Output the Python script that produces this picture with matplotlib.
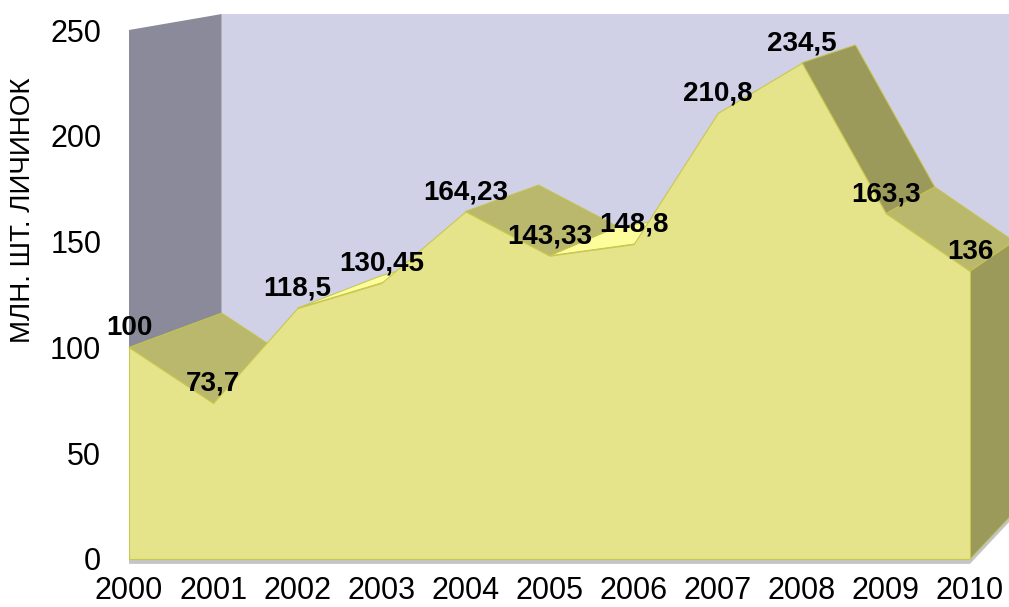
import matplotlib
matplotlib.use("Agg")
import matplotlib.pyplot as plt
from matplotlib.patches import Polygon
import numpy as np

plt.rcParams['font.family'] = ['Liberation Sans', 'DejaVu Sans']

# larvae output per year, mln pcs
years = ['2000', '2001', '2002', '2003', '2004', '2005',
         '2006', '2007', '2008', '2009', '2010']
values = [100, 73.7, 118.5, 130.45, 164.23, 143.33,
          148.8, 210.8, 234.5, 163.3, 136]
labels = ['100', '73,7', '118,5', '130,45', '164,23', '143,33',
          '148,8', '210,8', '234,5', '163,3', '136']
y_ticks = [0, 50, 100, 150, 200, 250]

# perspective: back plane = vanishing point + k * (front - vanishing point)
VP = np.array([19.0, 380.0])
K = 0.942
# screen units per data unit (x, y)
SX, SY = 84.1, 529 / 250


def back(p):
    p = np.asarray(p, dtype=float)
    return VP + K * (p - VP)


def quad(p1, p2):
    return [p1, p2, back(p2), back(p1)]


def facing(p1, p2):
    # ridge face is seen from above when the back edge lies over the front edge
    e = ((p2[0] - p1[0]) * SX, (p2[1] - p1[1]) * SY)
    b = back(p1)
    o = ((b[0] - p1[0]) * SX, (b[1] - p1[1]) * SY)
    return e[0] * o[1] - e[1] * o[0] > 0


def face_color(p1, p2):
    slope = (p2[1] - p1[1]) * SY / ((p2[0] - p1[0]) * SX)
    if slope > 0:
        return '#fdfd9c'
    if slope > -1.0:
        return '#bab86c'
    return '#9c9a5b'


fig = plt.figure(figsize=(10.09, 6.07), dpi=100)
ax = fig.add_axes([129 / 1009, 48 / 607, 841 / 1009, 529 / 607])
ax.set_xlim(0, 10)
ax.set_ylim(0, 250)

n = len(values)
xs = np.arange(n)
ymax = y_ticks[-1]

# back and left walls
ax.add_patch(Polygon([back((0, 0)), back((0, ymax)), back((10, ymax)), back((10, 0))],
                     closed=True, fc='#d0d0e6', ec='none', clip_on=False, zorder=1))
ax.add_patch(Polygon(quad((0, 0), (0, ymax)), closed=True, fc='#8a8a9a',
                     ec='none', clip_on=False, zorder=2))
# floor slab edge
t = 2.3
ax.add_patch(Polygon([(0, -t), (10, -t), back((10, -t)), back((10, 0)), (10, 0), (0, 0)],
                     closed=True, fc='#c4c4c4', ec='none', clip_on=False, zorder=3))

# right side face at the last year
ax.add_patch(Polygon(quad((10, 0), (10, values[-1])), closed=True, fc='#9c9a5b',
                     ec='#b9b94a', lw=0.6, clip_on=False, zorder=4))

# ridge faces, far ones first
for i in range(n - 2, -1, -1):
    p1 = (xs[i], values[i])
    p2 = (xs[i + 1], values[i + 1])
    if not facing(p1, p2):
        continue
    ax.add_patch(Polygon(quad(p1, p2), closed=True, fc=face_color(p1, p2),
                         ec='#c6c54a', lw=0.7, clip_on=False, zorder=5))

# front face of the area
ax.fill_between(xs, 0, values, color='#e6e48a', ec='#c9c84e', lw=0.8, zorder=6)

for x, v, s in zip(xs, values, labels):
    ax.annotate(s, (x, v), xytext=(0, 14), textcoords='offset points',
                ha='center', va='center', fontsize=20, fontweight='bold',
                zorder=10, annotation_clip=False)

ax.set_xticks(xs)
ax.set_xticklabels(years)
ax.set_yticks(y_ticks)
ax.tick_params(axis='both', length=0, labelsize=22)
ax.tick_params(axis='y', pad=20)
ax.tick_params(axis='x', pad=12)
for sp in ax.spines.values():
    sp.set_visible(False)
ax.set_facecolor('none')
ax.set_ylabel('МЛН. ШТ. ЛИЧИНОК', fontsize=20, va='center')
ax.yaxis.set_label_coords(-0.126, 0.66)

fig.savefig('out.png', dpi=100)
